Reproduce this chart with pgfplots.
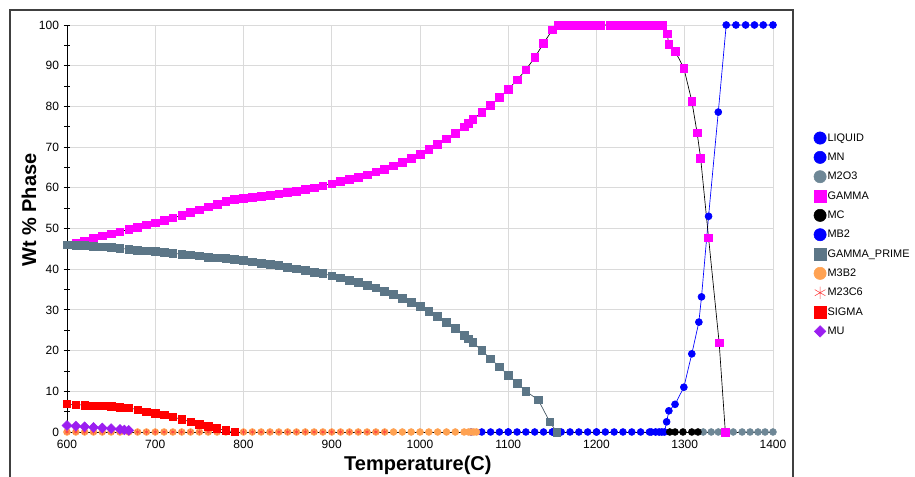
\documentclass[border=0pt]{standalone}
\usepackage{fontspec}
\setmainfont{Liberation Sans}
\usepackage{pgfplots}
\pgfplotsset{compat=1.18}
\definecolor{liq}{RGB}{0,0,255}
\definecolor{mtwo}{RGB}{110,135,150}
\definecolor{gp}{RGB}{92,118,135}
\definecolor{orng}{RGB}{255,162,82}
\definecolor{purp}{RGB}{155,30,240}
\definecolor{magn}{RGB}{255,0,255}
\definecolor{gridc}{RGB}{218,218,218}
\begin{document}
\begin{tikzpicture}
\useasboundingbox (0,0) rectangle (686.25pt,357.75pt);
\draw[line width=0.8pt, black!75] (7.5pt,-20pt) rectangle (594.75pt,350.25pt);
\begin{axis}[
  at={(50.25pt,33.75pt)}, anchor=south west,
  scale only axis, width=529.5pt, height=305.25pt,
  xmin=600, xmax=1400, ymin=0, ymax=100,
  clip=false,
  axis x line*=bottom, axis y line*=left,
  axis line style={-, black, line width=0.6pt},
  xtick={600,700,...,1400}, ytick={0,10,...,100}, minor y tick num=1,
  grid=major, major grid style={gridc, line width=0.6pt},
  tick align=center, major tick length=5pt, minor tick length=4pt,
  xtick style={draw=none},
  ytick style={black, line width=0.6pt},
  tick label style={font=\fontsize{9}{10}\selectfont},
  /pgf/number format/assume math mode=true,
  /pgf/number format/set thousands separator={},
  xlabel={Temperature(C)}, ylabel={Wt \% Phase},
  xlabel style={font=\bfseries\fontsize{15}{17}\selectfont, at={(axis description cs:0.497,-0.083)}, anchor=center},
  ylabel style={font=\bfseries\fontsize{15}{17}\selectfont, at={(axis description cs:-0.054,0.545)}, anchor=center},
  legend style={at={(axis description cs:1.052,0.745)}, anchor=north west, draw=none, fill=none,
    font=\fontsize{8.2}{9}\selectfont, row sep=5pt,
    nodes={inner sep=1pt, text height=6pt, text depth=1.5pt}},
  legend cell align=left,
  legend image code/.code={\draw[#1,only marks] plot coordinates {(0.17cm,0cm)};},
  legend image post style={mark size=4.6pt},
]
% LIQUID
\addplot[liq, line width=0.5pt, mark=*, mark size=2.6pt, mark options={fill=liq, draw=liq}] coordinates {
(1262,0)(1267,0)(1271,0)(1274,0)(1277,0)(1279.5,2.5)(1282,5.2)(1289,6.8)(1299,11)(1308,19.2)(1316,27)(1319,33.2)(1327,53)(1338,78.6)(1347,100)(1358,100)(1369,100)(1379,100)(1389,100)(1400,100)};
\addlegendentry{LIQUID}
% MN
\addplot[only marks, mark=*, mark size=2.6pt, mark options={fill=liq, draw=liq}] coordinates {
(1100,0)(1150,0)(1200,0)};
\addlegendentry{MN}
% M2O3
\addplot[only marks, mark=*, mark size=2.6pt, mark options={fill=mtwo, draw=mtwo}] coordinates {
(1321,0)(1330,0)(1338,0)(1346,0)(1355,0)(1365,0)(1374,0)(1383,0)(1391,0)(1400,0)};
\addlegendentry{M2O3}
% GAMMA
\addplot[black, line width=0.5pt, mark=square*, mark size=2.9pt, mark options={fill=magn, draw=magn}] coordinates {
(600,46)(610,46.5)(620,47)(630,47.6)(640,48.2)(650,48.7)(660,49.2)(670,49.8)(680,50.3)(690,50.9)
(700,51.4)(710,52)(720,52.6)(730,53.2)(740,53.9)(750,54.6)(760,55.3)(770,56.0)(780,56.6)(790,57.1)
(800,57.4)(810,57.6)(820,57.9)(830,58.2)(840,58.5)(850,58.8)(860,59.2)(870,59.6)(880,60.0)(890,60.5)
(900,61.0)(910,61.5)(920,62.0)(930,62.6)(940,63.2)(950,63.9)(960,64.6)(970,65.4)(980,66.3)(990,67.3)
(1000,68.3)(1010,69.4)(1020,70.6)(1030,72.0)(1040,73.4)(1050,75.0)(1055,75.9)(1060,76.8)(1070,78.5)(1080,80.3)
(1090,82.2)(1100,84.2)(1110,86.5)(1120,89)(1130,92)(1140,95.5)(1150,98.8)(1157,100)
(1165,100)(1175,100)(1185,100)(1195,100)(1205,100)(1215,100)(1225,100)(1235,100)(1245,100)(1255,100)(1265,100)(1275,100)
(1280,97.8)(1282,95.3)(1289,93.6)(1299,89.4)(1308,81.3)(1314,73.5)(1318,67.3)(1327,47.7)(1339,21.9)(1346,0)};
\addlegendentry{GAMMA}
% MC
\addplot[only marks, mark=*, mark size=2.6pt, mark options={fill=black, draw=black}] coordinates {
(1283,0)(1289,0)(1298,0)(1308,0)(1315,0)};
\addlegendentry{MC}
% MB2
\addplot[only marks, mark=*, mark size=2.6pt, mark options={fill=liq, draw=liq}] coordinates {
(1058,0)(1070,0)(1080,0)(1090,0)(1100,0)(1110,0)(1120,0)(1130,0)(1140,0)(1150,0)(1160,0)(1170,0)(1180,0)
(1190,0)(1200,0)(1210,0)(1220,0)(1230,0)(1240,0)(1250,0)(1260,0)};
\addlegendentry{MB2}
% GAMMA_PRIME
\addplot[gp!70!black, line width=0.5pt, mark=square*, mark size=2.9pt, mark options={fill=gp, draw=gp}] coordinates {
(600,46)(610,45.9)(620,45.8)(630,45.7)(640,45.5)(650,45.3)(660,45.1)(670,44.9)(680,44.7)(690,44.5)
(700,44.3)(710,44.1)(720,43.9)(730,43.7)(740,43.5)(750,43.3)(760,43.0)(770,42.8)(780,42.6)(790,42.4)
(800,42.1)(810,41.8)(820,41.5)(830,41.2)(840,40.9)(850,40.5)(860,40.1)(870,39.7)(880,39.3)(890,38.9)
(900,38.4)(910,37.9)(920,37.3)(930,36.7)(940,36.1)(950,35.4)(960,34.6)(970,33.8)(980,32.9)(990,31.9)
(1000,30.9)(1010,29.7)(1020,28.4)(1030,27.0)(1040,25.4)(1050,23.8)(1055,22.9)(1060,22.0)(1070,20.0)(1080,18.0)
(1090,16.0)(1100,14.0)(1110,12.0)(1120,10.0)(1134,7.9)(1147,2.5)(1155,0)};
\addlegendentry{GAMMA\_PRIME}
% M3B2
\addplot[only marks, mark=*, mark size=2.6pt, mark options={fill=orng, draw=orng}] coordinates {
(600,0)(610,0)(620,0)(630,0)(640,0)(650,0)(660,0)(670,0)(680,0)(690,0)
(700,0)(710,0)(720,0)(730,0)(740,0)(750,0)(760,0)(770,0)(780,0)(790,0)
(800,0)(810,0)(820,0)(830,0)(840,0)(850,0)(860,0)(870,0)(880,0)(890,0)
(900,0)(910,0)(920,0)(930,0)(940,0)(950,0)(960,0)(970,0)(980,0)(990,0)
(1000,0)(1010,0)(1020,0)(1030,0)(1040,0)(1050,0)(1055,0)(1058,0)(1061,0)(1064,0)};
\addlegendentry{M3B2}
% M23C6
\addplot[only marks, mark=asterisk, mark size=2.2pt, mark options={draw=red!75!white, line width=0.4pt}] coordinates {
(600,0)(610,0)(620,0)(630,0)(640,0)(650,0)(660,0)(670,0)(680,0)(690,0)
(700,0)(710,0)(720,0)(730,0)(740,0)(750,0)(760,0)(770,0)(780,0)(790,0)
(800,0)(810,0)(820,0)(830,0)(840,0)(850,0)(860,0)(870,0)(880,0)(890,0)
(900,0)(910,0)(920,0)(930,0)(940,0)(950,0)(960,0)};
\addlegendentry{M23C6}
% SIGMA
\addplot[black, line width=0.4pt, mark=square*, mark size=2.8pt, mark options={fill=red, draw=red}] coordinates {
(600,6.9)(610,6.7)(620,6.6)(630,6.5)(640,6.4)(650,6.3)(660,6.1)(665,6.0)(670,5.9)(680,5.5)
(690,5.0)(700,4.6)(710,4.2)(720,3.7)(730,3.1)(740,2.5)(750,1.9)(760,1.4)(770,0.9)(780,0.4)(790,0)};
\addlegendentry{SIGMA}
% MU
\addplot[purp, line width=0.4pt, mark=square*, mark size=2.6pt, mark options={fill=purp, draw=purp, rotate=45}, forget plot] coordinates {
(600,1.6)(610,1.45)(620,1.3)(630,1.15)(640,1.0)(650,0.85)(660,0.65)(665,0.5)(670,0.4)};
\addlegendimage{legend image code/.code={\fill[purp] (0.17cm,0cm) ++(-4.3pt,0pt) -- ++(4.3pt,4.3pt) -- ++(4.3pt,-4.3pt) -- ++(-4.3pt,-4.3pt) -- cycle;}}
\addlegendentry{MU}
\end{axis}
\end{tikzpicture}
\end{document}
